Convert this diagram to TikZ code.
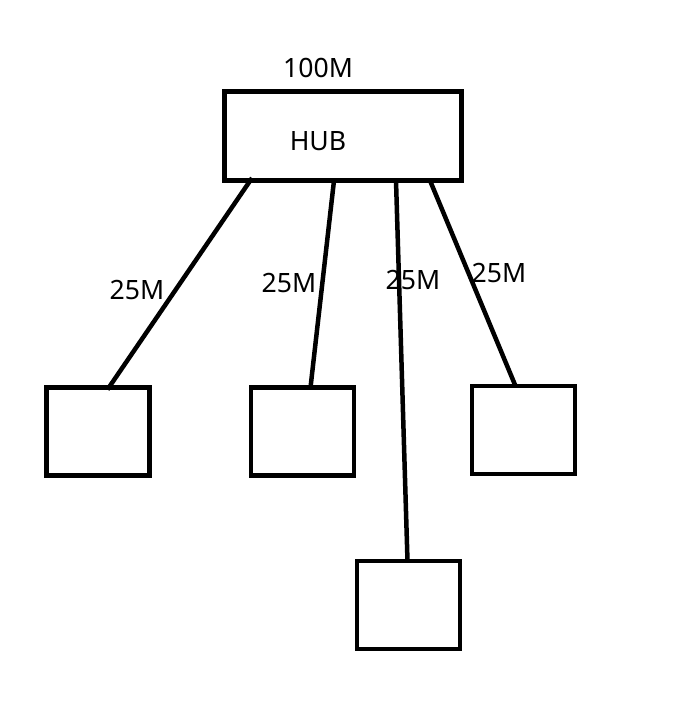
\documentclass[tikz,border=0pt]{standalone}
\usepackage{fontspec}
\setmainfont{Noto Sans}
\usepackage{tikz}

\begin{document}
\begin{tikzpicture}[x=1pt,y=-1pt,
  pcbox/.style={draw,line width=4.5pt,minimum width=103pt,minimum height=88pt,inner sep=0pt,outer sep=0pt},
  lbl/.style={inner sep=0pt,font=\fontsize{26.6}{30}\selectfont}]
\useasboundingbox[fill=white] (0,0) rectangle (688,710);
\node[pcbox,line width=5pt,minimum width=237pt,minimum height=89pt] (hub) at (343,136) {};
\node[lbl] (hubtext) at (318,141.5) {HUB};
\node[lbl] (speed) at (318,68) {100M};
\node[pcbox] (pc1) at (98,431.5) {};
\node[pcbox] (pc2) at (302.5,431.5) {};
\node[pcbox] (pc3) at (523.5,430) {};
\node[pcbox] (pc4) at (408.5,605) {};
\draw[line width=4.5pt] ([xshift=27.5pt,yshift=2.5pt]hub.south west) -- ([xshift=61pt,yshift=-2pt]pc1.north west);
\draw[line width=4.5pt] ([xshift=109.5pt]hub.south west) -- ([xshift=59.5pt]pc2.north west);
\draw[line width=4.5pt] ([xshift=171.5pt]hub.south west) -- ([xshift=50.5pt]pc4.north west);
\draw[line width=4.5pt] ([xshift=205.5pt]hub.south west) -- ([xshift=43.5pt]pc3.north west);
\node[lbl] (bw1) at (137,290) {25M};
\node[lbl] (bw2) at (289,283) {25M};
\node[lbl] (bw3) at (413,280) {25M};
\node[lbl] (bw4) at (499,273) {25M};
\end{tikzpicture}
\end{document}
